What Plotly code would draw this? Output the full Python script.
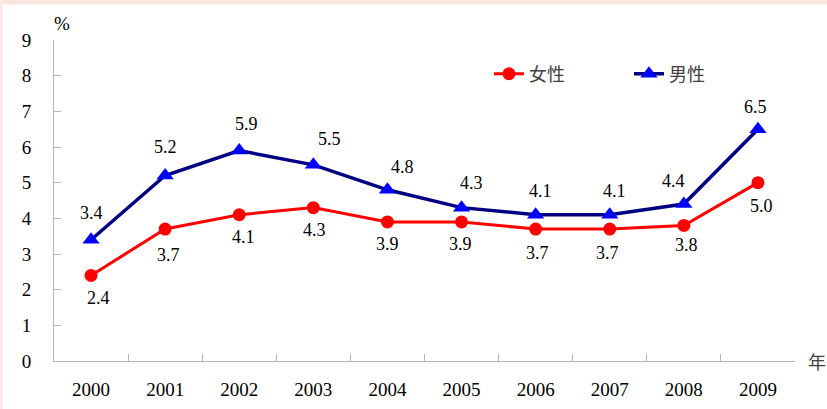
import plotly.graph_objects as go

years = ["2000", "2001", "2002", "2003", "2004", "2005", "2006", "2007", "2008", "2009"]
female = [2.4, 3.7, 4.1, 4.3, 3.9, 3.9, 3.7, 3.7, 3.8, 5.0]
male = [3.4, 5.2, 5.9, 5.5, 4.8, 4.3, 4.1, 4.1, 4.4, 6.5]
y_ticks = [0, 1, 2, 3, 4, 5, 6, 7, 8, 9]

# label styling (pixel nudges)
male_dx = [0, 0, 7, 16, 15, 10, 5, 5, -10, -2]
male_dy = [27, 29, 27, 26, 23, 25, 24, 24, 23, 22]
female_dx = [7, 3, 4, 1, 0, -1, 2, -2, 3, 4]
female_dy = [-23, -26, -22, -22, -22, -22, -24, -24, -20, -23]

SERIF = "Liberation Serif"
CJK = "Noto Sans CJK SC"

fig = go.Figure()
fig.add_trace(go.Scatter(
    x=years, y=female, name="女性", mode="lines+markers",
    line=dict(color="#FF0000", width=3),
    marker=dict(symbol="circle", size=13, color="#FF0000"),
    cliponaxis=False,
))
fig.add_trace(go.Scatter(
    x=years, y=male, name="男性", mode="lines+markers",
    line=dict(color="#000080", width=3.5),
    marker=dict(symbol="triangle-up", size=15, color="#0000FF"),
    cliponaxis=False,
))

annotations = []
for i, yr in enumerate(years):
    annotations.append(dict(x=i, y=male[i], xref="x", yref="y", text=f"{male[i]:.1f}",
                            showarrow=False, xshift=male_dx[i], yshift=male_dy[i],
                            font=dict(family=SERIF, size=18, color="#000000")))
    annotations.append(dict(x=i, y=female[i], xref="x", yref="y", text=f"{female[i]:.1f}",
                            showarrow=False, xshift=female_dx[i], yshift=female_dy[i],
                            font=dict(family=SERIF, size=18, color="#000000")))

annotations.append(dict(x=0.011, y=1.05, xref="paper", yref="paper", text="%",
                        showarrow=False, xanchor="center", yanchor="middle",
                        font=dict(family=SERIF, size=19, color="#000000")))
annotations.append(dict(x=1.0, y=0.0, xref="paper", yref="paper", text="年",
                        showarrow=False, xanchor="left", yanchor="middle", xshift=11,
                        font=dict(family=CJK, size=18, color="#404040")))

shapes = [
    dict(type="rect", xref="paper", yref="paper", x0=-0.08, x1=1.05,
         y0=(361 - 4.5) / 321, y1=(361 - 0) / 321 + 0.01, fillcolor="#FBE5E1", line_width=0, layer="below"),
    dict(type="rect", xref="paper", yref="paper", x0=-0.08, x1=(3 - 54) / 741,
         y0=-0.2, y1=1.2, fillcolor="#FCE9E6", line_width=0, layer="below"),
]

fig.update_layout(
    width=827, height=409,
    autosize=False,
    margin=dict(l=54, r=32, t=40, b=48, autoexpand=False),
    paper_bgcolor="#FFFFFF", plot_bgcolor="#FFFFFF",
    showlegend=True,
    legend=dict(orientation="h", x=0.587, y=0.894, xanchor="left", yanchor="middle",
                font=dict(family=CJK, size=18, color="#404040"),
                bgcolor="rgba(0,0,0,0)", entrywidth=95, entrywidthmode="pixels",
                itemclick=False),
    annotations=annotations,
    shapes=shapes,
    xaxis=dict(type="category", range=[-0.5, 9.5], showgrid=False, zeroline=False,
               showline=True, linecolor="#B5B5B5", linewidth=1, automargin=False,
               ticks="inside", ticklen=7, tickcolor="#B5B5B5", tickson="boundaries",
               tickfont=dict(family=SERIF, size=19, color="#000000"),
               ticklabelstandoff=11, fixedrange=True),
    yaxis=dict(range=[0, 9], tickvals=y_ticks, showgrid=False, zeroline=False,
               showline=True, linecolor="#B5B5B5", linewidth=1, automargin=False,
               ticks="inside", ticklen=7, tickcolor="#B5B5B5",
               tickfont=dict(family=SERIF, size=19, color="#000000"),
               ticklabelstandoff=18, fixedrange=True),
)

fig.write_html("out.html", config={"displayModeBar": False},
               post_script="document.body.style.margin='0';document.body.style.padding='0';")
